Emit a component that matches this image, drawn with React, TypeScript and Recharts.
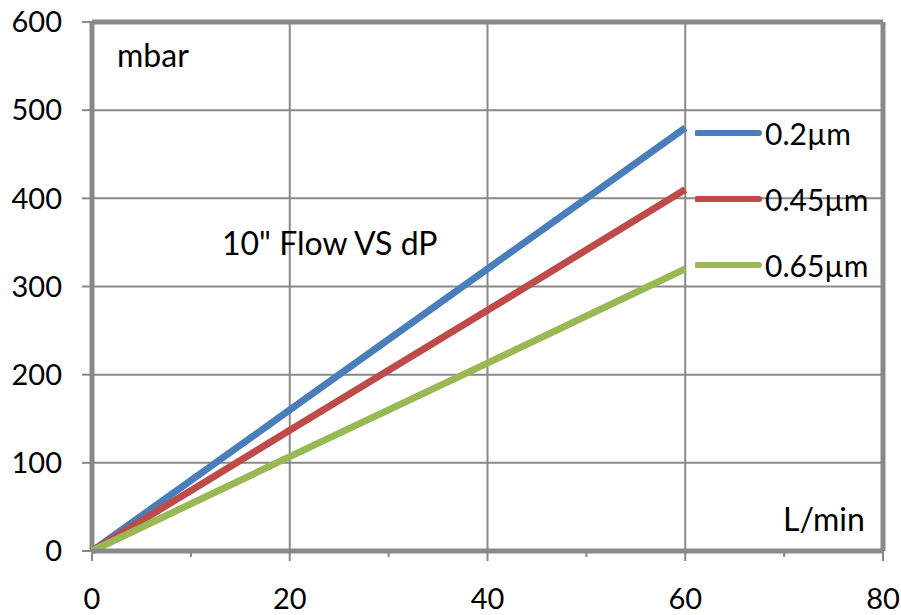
import React from 'react';
import {
  LineChart,
  Line,
  XAxis,
  YAxis,
  CartesianGrid,
  ReferenceLine
} from 'recharts';

const flow = [0, 20, 40, 60];
const dp02 = [0, 160, 320, 480];
const dp045 = [0, 137, 273, 410];
const dp065 = [0, 107, 213, 320];

const xTicks = [0, 10, 20, 30, 40, 50, 60, 70, 80];
const yTicks = [0, 100, 200, 300, 400, 500, 600];
const xGrid = [20, 40, 60];

const series = [
  { key: 'a', name: '0.2µm', color: '#4a7ebb', values: dp02 },
  { key: 'b', name: '0.45µm', color: '#be4b48', values: dp045 },
  { key: 'c', name: '0.65µm', color: '#98b954', values: dp065 }
];

const data = flow.map((f, i) => ({
  flow: f,
  a: dp02[i],
  b: dp045[i],
  c: dp065[i]
}));

const FONT = 'Lato, "Open Sans", sans-serif';
const GRAY = '#898989';
const SIZE = 29;

const XTick = (props: any) => {
  const { x, y, payload } = props;
  const major = payload.value % 20 === 0;
  return (
    <g>
      <line x1={x} x2={x} y1={y} y2={y + (major ? 10 : 6)} stroke={GRAY} strokeWidth={2} />
      {major && (
        <text x={x} y={y + 58} textAnchor="middle" fontSize={SIZE} fontFamily={FONT} fill="#000">
          {payload.value}
        </text>
      )}
    </g>
  );
};

// legend sits inside the plot, to the right of the line ends
const LegendBox = () => (
  <div style={{ position: 'absolute', left: 695, top: 100, fontFamily: FONT, fontSize: SIZE }}>
    {series.map((s) => (
      <div key={s.key} style={{ display: 'flex', alignItems: 'center', height: 66 }}>
        <svg width={70} height={10}>
          <line x1={2} x2={64} y1={5} y2={5} stroke={s.color} strokeWidth={6} strokeLinecap="round" />
        </svg>
        <span style={{ color: '#000', fontSize: 30 }}>{s.name}</span>
      </div>
    ))}
  </div>
);

const note = (left: number, top: number): React.CSSProperties => ({
  position: 'absolute',
  left,
  top,
  fontFamily: FONT,
  fontSize: 32,
  color: '#000',
  whiteSpace: 'nowrap',
  lineHeight: 1
});

export default function App() {
  return (
    <div style={{ position: 'absolute', left: 0, top: 0, width: 901, height: 615, background: '#fff' }}>
      <LineChart width={901} height={615} data={data} margin={{ top: 22, right: 18, bottom: 0, left: 0 }}>
        <CartesianGrid vertical={false} stroke={GRAY} strokeWidth={2} />
        {xGrid.map((v) => (
          <ReferenceLine key={v} x={v} stroke={GRAY} strokeWidth={2} />
        ))}
        <XAxis
          dataKey="flow"
          type="number"
          domain={[0, 80]}
          ticks={xTicks}
          interval={0}
          tickSize={0}
          tickMargin={0}
          tickLine={false}
          axisLine={false}
          tick={<XTick />}
          height={64}
        />
        <YAxis
          type="number"
          domain={[0, 600]}
          ticks={yTicks}
          interval={0}
          width={92}
          tickSize={10}
          tickMargin={20}
          tickLine={{ stroke: GRAY, strokeWidth: 2 }}
          axisLine={false}
          tick={{ fontSize: SIZE, fill: '#000', fontFamily: FONT }}
        />
        <ReferenceLine x={0} stroke={GRAY} strokeWidth={5} />
        <ReferenceLine x={80} stroke={GRAY} strokeWidth={5} />
        <ReferenceLine y={600} stroke={GRAY} strokeWidth={5} />
        {series.map((s) => (
          <Line
            key={s.key}
            type="linear"
            dataKey={s.key}
            name={s.name}
            stroke={s.color}
            strokeWidth={7}
            dot={false}
            isAnimationActive={false}
          />
        ))}
        <ReferenceLine y={0} stroke={GRAY} strokeWidth={5} />
      </LineChart>
      <LegendBox />
      <div style={note(117, 39)}>mbar</div>
      <div style={note(222, 227)}>10" Flow VS dP</div>
      <div style={note(783, 503)}>L/min</div>
    </div>
  );
}
